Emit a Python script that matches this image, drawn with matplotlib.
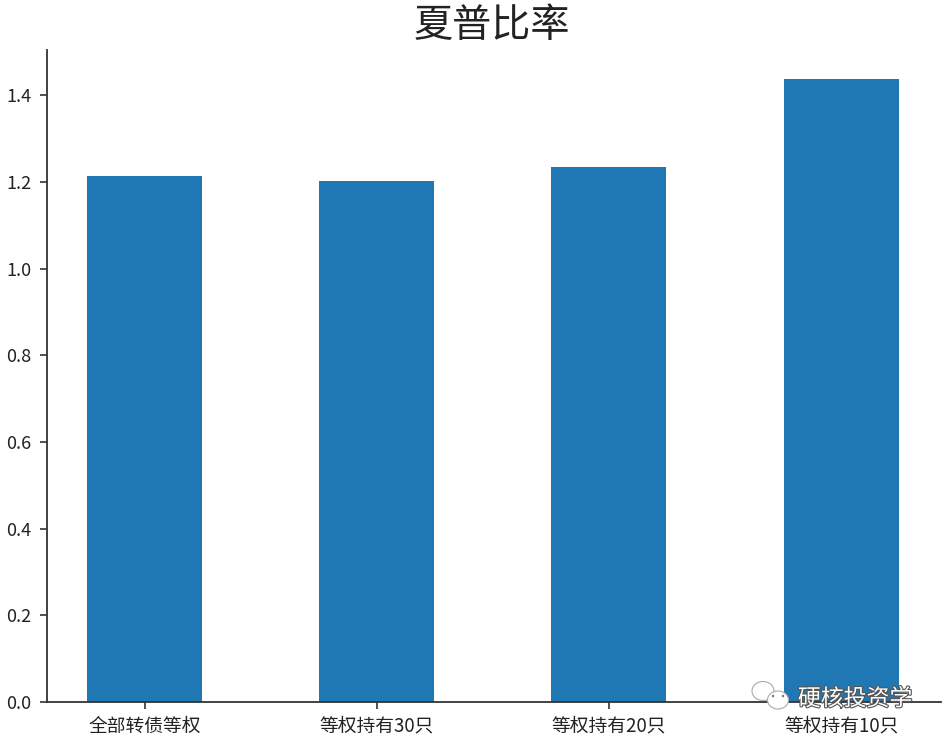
import numpy as np
import matplotlib
matplotlib.use("Agg")
import matplotlib.pyplot as plt
import matplotlib.patheffects as pe
from matplotlib.patches import Ellipse

plt.rcParams['font.family'] = ['Noto Sans CJK SC', 'DejaVu Sans']

# 数据
labels = ['全部转债等权', '等权持有30只', '等权持有20只', '等权持有10只']
sharpe = [1.215, 1.202, 1.234, 1.437]
yticks = [0.0, 0.2, 0.4, 0.6, 0.8, 1.0, 1.2, 1.4]

W, H = 942, 738
fig = plt.figure(figsize=(W / 100, H / 100), dpi=100)
ax = fig.add_axes([47 / W, 1 - 702 / H, (941 - 47) / W, (702 - 50) / H])

x = np.arange(len(labels))
ax.bar(x, sharpe, width=0.495, color='#1f77b4')
ax.set_xlim(-0.42, 3.43)
ax.set_ylim(0, 1.505)
ax.set_xticks(x)
ax.set_xticklabels(labels, fontsize=13.5, color='#222222')
ax.set_yticks(yticks)
ax.set_yticklabels(['%.1f' % v for v in yticks], fontsize=13, color='#222222')
ax.tick_params(axis='x', length=5, width=1.2, color='#333333', pad=5)
ax.tick_params(axis='y', length=5, width=1.2, color='#333333', pad=6)

ax.spines['top'].set_visible(False)
ax.spines['right'].set_visible(False)
for side in ['left', 'bottom']:
    ax.spines[side].set_linewidth(1.3)
    ax.spines[side].set_color('#333333')

fig.text(492 / W, 1 - 26 / H, '夏普比率', fontsize=28.2, color='#222222', ha='center', va='center')

# 水印
shadow = [pe.withStroke(linewidth=1.6, foreground='#555555')]
fig.text(855 / W, 1 - 699 / H, '硬核投资学', fontsize=16.5, color='white', ha='center', va='center',
         path_effects=shadow, zorder=10)
for cx, cy, w, h in [(763, 691, 22, 19), (778, 700, 21, 18)]:
    fig.add_artist(Ellipse((cx / W, 1 - cy / H), w / W, h / H, transform=fig.transFigure,
                           facecolor='white', edgecolor='#aaaaaa', linewidth=0.8, zorder=9))
for cx, cy in [(773, 696), (783, 696)]:
    fig.add_artist(Ellipse((cx / W, 1 - cy / H), 2.5 / W, 2.5 / H, transform=fig.transFigure,
                           facecolor='#777777', edgecolor='none', zorder=9))

fig.savefig('out.png', dpi=100)
